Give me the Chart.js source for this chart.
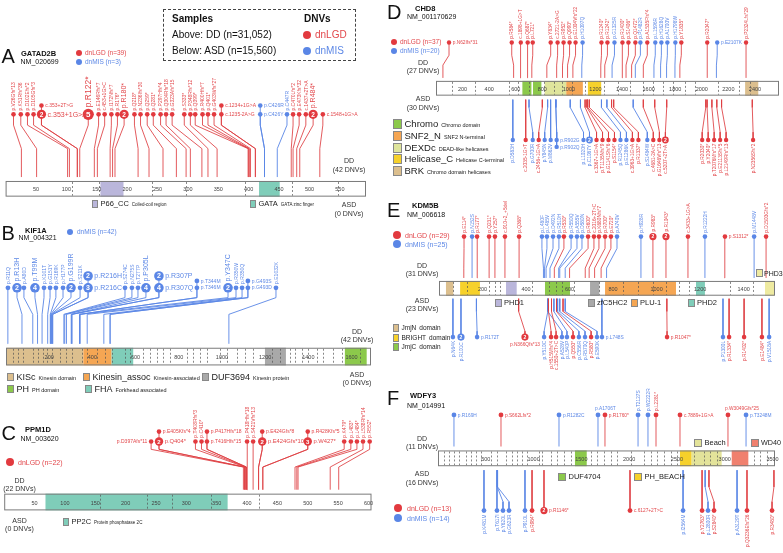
<!DOCTYPE html>
<html>
<head>
<meta charset="utf-8">
<script src="https://cdn.jsdelivr.net/npm/chart.js@4.4.1/dist/chart.umd.min.js"></script>
<style>
html, body { margin: 0; padding: 0; background: #fff; }
#page { position: relative; width: 783px; height: 553px; overflow: hidden; font-family: "Liberation Sans", Arial, sans-serif; }
#page canvas { position: absolute; left: 0; top: 0; }
.t { position: absolute; white-space: nowrap; line-height: 1; }
</style>
</head>
<body>
<div id="page"></div>
<script>
// de novo variant lollipops, 6 genes
var W = 783, H = 553;
var FONT = '"Liberation Sans", Arial, sans-serif';
var RED = '#e23a3f', BLUE = '#5a86e6';
var RED_TXT = '#e2474b', BLUE_TXT = '#5d88e6';
var RED_STEM = 'rgba(222,62,66,0.85)', BLUE_STEM = 'rgba(90,134,229,0.9)';

var domainColors = {
  'P66_CC': '#bab6db', 'GATA': '#7fcdb9', 'KISc': '#dcbf8e', 'Kinesin_assoc': '#f5a653',
  'FHA': '#7fcdb9', 'DUF3694': '#a9a9a9', 'PH': '#8cc94b', 'PP2C': '#7fcdb9',
  'Chromo': '#8cc94b', 'SNF2_N': '#f5a653', 'DEXDc': '#dfe59c', 'Helicase_C': '#f6d12b',
  'BRK': '#dcbf8e', 'JmjN': '#dcbf8e', 'BRIGHT': '#f6d12b', 'JmjC': '#8cc94b',
  'PHD1': '#bab6db', 'zfC5HC2': '#a9a9a9', 'PLU-1': '#f5a653', 'PHD2': '#7fcdb9',
  'PHD3': '#eeeaa0', 'DUF4704': '#8cc94b', 'PH_BEACH': '#f6d12b', 'Beach': '#e3e39a', 'WD40': '#f0806e'
};

// ---- GATAD2B ----
var gatad2bLen = 593;
var gatad2bTicks = [50, 100, 150, 200, 250, 300, 350, 400, 450, 500, 550];
var gatad2bExons = [110, 154, 241, 297, 394, 471, 547];
var gatad2bDomains = [['P66_CC', 156, 194], ['GATA', 417, 451]];
// [type, protein position, display position, label, count]
var gatad2bDD = [
  ['L', 26, 13, 'p.V26Gfs*13', 1], ['L', 51, 25, 'p.K51Rfs*36', 1], ['L', 102, 36, 'p.D102Efs*2', 1],
  ['L', 105, 46, 'p.D105Gfs*3', 1], ['L', 118, 59, 'c.353+2T>G', 1], ['L', 118, 59, 'c.353+1G>A', 2],
  ['L', 122, 136, 'p.R122*', 5], ['L', 146, 153, 'p.E146Rfs*7', 1], ['L', 151, 163, 'c.453+1G>C', 1],
  ['L', 172, 174, 'p.I172Nfs*7', 1], ['L', 176, 184, 'p.R176*', 1], ['L', 180, 195, 'p.R180*', 2],
  ['L', 218, 212, 'p.Q218*', 1], ['L', 236, 222, 'p.N236Ifs*30', 1], ['L', 259, 233, 'p.Q259*', 1],
  ['L', 281, 243, 'p.Q281*', 1], ['L', 297, 255, 'p.P297Hfs*4', 1], ['L', 304, 264, 'p.Q304Rfs*18', 1],
  ['L', 323, 274, 'p.G323Afs*15', 1], ['L', 333, 294, 'p.S333*', 1], ['L', 348, 304, 'p.P348Rfs*12', 1],
  ['L', 399, 312, 'p.Q399*', 1], ['L', 400, 324, 'p.R400Hfs*7', 1], ['L', 401, 333, 'p.Q401*', 1],
  ['L', 403, 343, 'p.G403Wfs*27', 1], ['L', 411, 355, 'c.1234+1G>A', 1], ['L', 411, 355, 'c.1235-2A>G', 1],
  ['M', 426, 419, 'p.C426R', 1], ['M', 426, 419, 'p.C426Y', 1], ['M', 447, 463, 'p.C447R', 1],
  ['L', 470, 473, 'p.C470Lfs*2', 1], ['L', 473, 483, 'p.E473Kfs*32', 1], ['L', 479, 494, 'c.1437+2T>A', 1],
  ['L', 484, 506, 'p.R484*', 2], ['L', 517, 522, 'c.1548+1G>A', 1]
];

// ---- KIF1A ----
var kif1aLen = 1690;
var kif1aTicks = [200, 400, 600, 800, 1000, 1200, 1400, 1600];
var kif1aExons = [31, 54, 80, 127, 150, 170, 188, 211, 250, 278, 304, 350, 373, 420, 458, 489, 551, 574, 636, 667,
  698, 728, 759, 836, 867, 898, 929, 991, 1022, 1068, 1106, 1145, 1230, 1269, 1315, 1338, 1369, 1400, 1438,
  1469, 1515, 1554, 1639];
var kif1aDomains = [['KISc', 2, 358], ['Kinesin_assoc', 358, 489], ['FHA', 489, 589], ['DUF3694', 1199, 1296], ['PH', 1569, 1670]];
var kif1aDD = [
  ['M', 8, 9, 'p.R11Q', 1], ['M', 74, 51, 'p.R13H', 2], ['M', 124, 83, 'p.A80D', 1], ['M', 146, 134, 'p.T99M', 4],
  ['M', 167, 176, 'p.K101T', 1], ['M', 193, 204, 'p.G151Y', 1], ['M', 205, 231, 'p.R169K', 1],
  ['M', 207, 264, 'p.H177P', 1], ['M', 209, 301, 'p.G199R', 2], ['M', 211, 343, 'p.S211K', 1],
  ['M', 216, 380, 'p.R216C', 3], ['M', 216, 380, 'p.R216H', 2], ['M', 268, 551, 'p.S274C', 1],
  ['M', 272, 583, 'p.N275S', 1], ['M', 280, 611, 'p.T277P', 1], ['M', 302, 648, 'p.P305L', 4],
  ['M', 305, 708, 'p.R307Q', 4], ['M', 305, 708, 'p.R307P', 2], ['M', 341, 884, 'p.T344M', 1],
  ['M', 341, 884, 'p.T346M', 1], ['M', 343, 1028, 'p.Y347C', 2], ['M', 376, 1065, 'p.R350W', 1],
  ['M', 453, 1093, 'p.R350Q', 1], ['M', 482, 1120, 'p.G493S', 1], ['M', 482, 1120, 'p.G493D', 1],
  ['M', 1032, 1250, 'p.E1032K', 1]
];

// ---- PPM1D ----
var ppm1dLen = 605;
var ppm1dTicks = [50, 100, 150, 200, 250, 300, 350, 400, 450, 500, 550, 600];
var ppm1dExons = [158, 236, 277, 341, 420];
var ppm1dDomains = [['PP2C', 68, 368]];
var ppm1dDD = [
  ['L', 394, 242, 'p.D397Afs*11', 1], ['L', 396, 255, 'p.Q404*', 2], ['L', 396, 255, 'p.E405Kfs*4', 1],
  ['L', 397, 315, 'p.T408Rfs*3', 1], ['L', 398, 325, 'p.C410*', 1], ['L', 399, 334, 'p.T416Hfs*15', 1],
  ['L', 399, 334, 'p.P417Hfs*18', 1], ['L', 401, 400, 'p.P418Hfs*18', 1], ['L', 410, 410, 'p.S421Vfs*13', 1],
  ['L', 419, 425, 'p.E424Gfs*10', 2], ['L', 419, 425, 'p.E424Gfs*8', 1], ['L', 426, 500, 'p.W427*', 3],
  ['L', 426, 500, 'p.R428Kfs*5', 1], ['L', 479, 560, 'p.K479*', 1], ['L', 482, 571, 'p.L483*', 1],
  ['L', 484, 581, 'p.L484*', 1], ['L', 537, 591, 'p.L538Rfs*14', 1], ['L', 551, 602, 'p.R552*', 1]
];

// ---- CHD8 ----
var chd8Len = 2581;
var chd8Ticks = [200, 400, 600, 800, 1000, 1200, 1400, 1600, 1800, 2000, 2200, 2400];
var chd8Exons = [123, 290, 552, 614, 701, 813, 888, 950, 1025, 1124, 1261, 1373, 1460, 1560, 1634, 1709, 1784, 1871, 1946, 2120, 2282, 2362];
var chd8Domains = [['Chromo', 650, 718], ['Chromo', 730, 793], ['DEXDc', 818, 980], ['SNF2_N', 980, 1105],
  ['Helicase_C', 1143, 1243], ['BRK', 2326, 2425]];
var chd8DD = [
  ['L', 52, 98, 'p.N62Ifs*31', 1], ['L', 584, 570, 'p.R584*', 1], ['L', 633, 638, 'c.1898+1G>T', 1],
  ['L', 687, 690, 'p.Q687*', 1], ['L', 721, 728, 'p.L721*', 1], ['L', 834, 863, 'p.Y834*', 1],
  ['L', 908, 915, 'c.2721-2A>G', 1], ['L', 952, 960, 'p.R952*', 1], ['L', 990, 1005, 'p.Q990*', 1],
  ['L', 1030, 1050, 'p.E1004Vfs*22', 1], ['M', 1097, 1103, 'p.H1097Q', 1], ['L', 1240, 1245, 'p.R1240*', 1],
  ['L', 1270, 1290, 'p.R1242*', 1], ['M', 1325, 1343, 'p.G1325R', 1], ['L', 1400, 1403, 'p.R1400*', 1],
  ['L', 1430, 1448, 'p.S1406*', 1], ['L', 1472, 1500, 'p.Q1472*', 1], ['M', 1500, 1538, 'p.P1482R', 1],
  ['L', 1560, 1590, 'p.A1535Ffs*4', 1], ['M', 1640, 1650, 'p.L1596R', 1], ['M', 1690, 1696, 'p.H1628Q', 1],
  ['M', 1735, 1741, 'p.A1700V', 1], ['M', 1798, 1801, 'p.H1798W', 1], ['L', 1835, 1846, 'p.Y1835*', 1],
  ['L', 2041, 2041, 'p.R2047*', 1], ['M', 2110, 2116, 'p.E2107K', 1], ['L', 2333, 2333, 'p.P2324Lfs*29', 1]
];
var chd8ASD = [
  ['M', 578, 578, 'p.D583H', 1], ['L', 675, 675, 'c.2035-1G>T', 1], ['M', 700, 728, 'p.G700R', 1],
  ['L', 800, 773, 'c.2456+1G>A', 1], ['M', 840, 818, 'p.Y845N', 1], ['M', 862, 863, 'p.M862V', 1],
  ['M', 902, 908, 'p.R902G', 1], ['M', 902, 908, 'p.R902Q', 1], ['M', 1010, 1110, 'p.L1020H', 1],
  ['M', 1087, 1155, 'p.C1087Y', 2], ['L', 1122, 1208, 'c.3367+1G>A', 1], ['L', 1135, 1253, 'p.T1135Nfs*9', 1],
  ['L', 1141, 1298, 'p.G1141Sfs*6', 1], ['L', 1154, 1343, 'p.S1154*', 1], ['M', 1245, 1388, 'p.R1245Q', 1],
  ['M', 1286, 1433, 'p.E1286K', 1], ['L', 1321, 1478, 'c.3963+1G>A', 1], ['L', 1337, 1523, 'p.R1337*', 1],
  ['M', 1484, 1590, 'p.S1484W', 1], ['L', 1560, 1635, 'c.4681-2A>C', 1], ['L', 1646, 1681, 'p.G1646Vfs*13', 1],
  ['L', 1736, 1726, 'c.5207+2T>A', 2], ['L', 2030, 2003, 'p.R2030*', 1], ['L', 2040, 2048, 'p.Y2040*', 1],
  ['L', 2076, 2093, 'p.T2076Mfs*17', 1], ['L', 2113, 2138, 'p.E2113Sfs*5', 1], ['L', 2149, 2183, 'p.L2149Rfs*13', 1],
  ['L', 2380, 2386, 'p.N2356Sfs*2', 1]
];

// ---- KDM5B ----
var kdm5bLen = 1544;
var kdm5bTicks = [200, 400, 600, 800, 1000, 1200, 1400];
var kdm5bExons = [66, 128, 228, 256, 282, 428, 505, 536, 566, 620, 736, 844, 913, 982, 1044, 1105, 1151, 1336, 1444];
var kdm5bDomains = [['JmjN', 32, 66], ['BRIGHT', 97, 188], ['PHD1', 308, 357], ['JmjC', 487, 602],
  ['zfC5HC2', 694, 737], ['PLU-1', 763, 1089], ['PHD2', 1181, 1222], ['PHD3', 1498, 1540]];
var kdm5bDD = [
  ['L', 114, 115, 'p.E114*', 1], ['M', 152, 152, 'p.N152S', 1], ['L', 177, 175, 'p.R177*', 1],
  ['L', 231, 230, 'p.Q231*', 1], ['L', 257, 257, 'p.Y257*', 1], ['L', 303, 303, 'c.910+2_+5del', 1],
  ['L', 368, 368, 'p.Q368*', 1], ['M', 480, 473, 'p.L480F', 1], ['M', 485, 496, 'p.L485V', 1],
  ['M', 492, 524, 'p.D492N', 1], ['M', 510, 551, 'p.R510H', 1], ['L', 530, 574, 'p.R530*', 1],
  ['M', 550, 607, 'p.R550Q', 1], ['M', 555, 634, 'p.A555V', 1], ['M', 580, 657, 'p.D580N', 1],
  ['L', 600, 685, 'p.R600*', 1], ['L', 672, 712, 'c.2016+2T>C', 1], ['L', 690, 735, 'p.K680Nfs*7', 1],
  ['L', 715, 763, 'p.R700*', 1], ['L', 745, 790, 'p.E720*', 1], ['M', 770, 818, 'p.A740V', 1],
  ['M', 928, 928, 'p.H928R', 1], ['L', 983, 983, 'p.R983*', 2], ['L', 1043, 1043, 'p.R1043*', 2],
  ['L', 1144, 1144, 'c.3433+1G>A', 1], ['M', 1222, 1222, 'p.R1222H', 1], ['L', 1312, 1314, 'p.S1312*', 1],
  ['M', 1448, 1448, 'p.M1448V', 1], ['L', 1503, 1503, 'p.D1503Gfs*2', 1]
];
var kdm5bASD = [
  ['M', 64, 64, 'p.N64K', 1], ['M', 101, 101, 'p.R101C', 2], ['M', 172, 175, 'p.R172T', 1],
  ['L', 366, 395, 'p.N366Qfs*13', 2], ['M', 500, 483, 'p.Y510C', 1], ['L', 503, 515, 'p.H515Mfs*4', 1],
  ['L', 517, 538, 'c.1550+2T>C', 1], ['M', 500, 565, 'p.A528V', 1], ['M', 528, 588, 'p.L540P', 1],
  ['L', 540, 616, 'p.Q550*', 1], ['M', 545, 643, 'p.C556R', 1], ['M', 555, 671, 'p.R570Q', 1],
  ['L', 570, 699, 'p.R580*', 1], ['M', 580, 726, 'p.E590K', 1], ['M', 748, 749, 'p.L748S', 1],
  ['L', 1047, 1048, 'p.R1047*', 1], ['M', 1305, 1305, 'p.P1300L', 1], ['L', 1333, 1333, 'p.R1334*', 1],
  ['L', 1402, 1402, 'p.R1402*', 1], ['L', 1484, 1484, 'p.E1484*', 1], ['M', 1517, 1517, 'p.V1518A', 1]
];

// ---- WDFY3 ----
var wdfy3Len = 3526;
var wdfy3Ticks = [500, 1000, 1500, 2000, 2500, 3000, 3500];
var wdfy3Exons = [64, 116, 169, 221, 291, 343, 395, 447, 552, 621, 708, 778, 830, 883, 935, 1057, 1092, 1180, 1249,
  1319, 1388, 1597, 1667, 1737, 1806, 1876, 2015, 2155, 2224, 2294, 2364, 2433, 2503, 2677, 2782, 2851, 2921,
  3304, 3374, 3444];
var wdfy3Domains = [['DUF4704', 1433, 1556], ['PH_BEACH', 2532, 2654], ['Beach', 2654, 2968], ['WD40', 3073, 3247]];
var wdfy3DD = [
  ['M', 167, 167, 'p.R169H', 1], ['L', 659, 659, 'p.S662Lfs*2', 1], ['M', 1266, 1266, 'p.R1282C', 1],
  ['M', 1674, 1674, 'p.A1706T', 1], ['L', 1747, 1747, 'p.R1760*', 1], ['M', 2093, 2093, 'p.T2127S', 1],
  ['M', 2197, 2197, 'p.W2222R', 1], ['L', 2281, 2281, 'p.L2281*', 1], ['L', 2532, 2532, 'c.7889+1G>A', 1],
  ['L', 3034, 3034, 'p.W3049Gfs*25', 1], ['M', 3223, 3223, 'p.T3248M', 1]
];
var wdfy3ASD = [
  ['M', 481, 481, 'p.K481M', 1], ['M', 617, 617, 'p.T617I', 1], ['M', 620, 680, 'p.Y620L', 1],
  ['M', 623, 743, 'p.G623R', 1], ['M', 910, 910, 'p.P910L', 1], ['L', 984, 984, 'p.R984*', 1],
  ['L', 1109, 1109, 'p.R1146*', 2], ['L', 2009, 2009, 'c.6127+2T>C', 1], ['M', 2564, 2564, 'p.I2564M', 1],
  ['L', 2763, 2763, 'p.Y2763*', 1], ['M', 2795, 2825, 'p.L2800R', 1], ['L', 2835, 2888, 'p.S2840*', 1],
  ['M', 3129, 3129, 'p.A3129T', 1], ['L', 3233, 3233, 'p.Q3236Efs*26', 1], ['L', 3515, 3495, 'p.R3480*', 1]
];

// label placement (styles, not data)
var hRight = ['c.353+2T>G', 'c.353+1G>A', 'c.1234+1G>A', 'c.1235-2A>G', 'p.C426R', 'p.C426Y', 'c.1548+1G>A',
  'p.R216C', 'p.R216H', 'p.R307Q', 'p.R307P', 'p.T344M', 'p.T346M', 'p.G493S', 'p.G493D',
  'p.Q404*', 'p.E405Kfs*4', 'p.T416Hfs*15', 'p.P417Hfs*18', 'p.E424Gfs*10', 'p.E424Gfs*8', 'p.W427*', 'p.R428Kfs*5',
  'p.N62Ifs*31', 'p.E2107K', 'p.R902G', 'p.R902Q', 'p.S1312*', 'p.R172T', 'p.L748S', 'p.R1047*',
  'p.R169H', 'p.S662Lfs*2', 'p.R1282C', 'p.R1760*', 'c.7889+1G>A', 'p.T3248M', 'p.R1146*', 'c.6127+2T>C'];
var hLeft = ['p.D397Afs*11'];
var hAbove = ['p.A1706T', 'p.W3049Gfs*25'];
var hBelow = ['p.N366Qfs*13'];
var outerRow = ['c.353+2T>G', 'c.1234+1G>A', 'p.C426R', 'p.R216H', 'p.R307P', 'p.T344M', 'p.G493S',
  'p.E405Kfs*4', 'p.P417Hfs*18', 'p.E424Gfs*8', 'p.R428Kfs*5', 'p.R902Q'];

var panels = [
  { key: 'A', len: gatad2bLen, ticks: gatad2bTicks, exons: gatad2bExons, domains: gatad2bDomains, dd: gatad2bDD, asd: [],
    x0: 5, x1: 366, barTop: 179, barBot: 195,
    top: { dot: 111, b2: 122, b1: 146, near: 175, gap: 9, up: true }, bottom: null,
    r: 2.3, R: 4.6, small: 5, big: 7, num: 6.5 },
  { key: 'B', len: kif1aLen, ticks: kif1aTicks, exons: kif1aExons, domains: kif1aDomains, dd: kif1aDD, asd: [],
    x0: 6, x1: 371, barTop: 349, barBot: 367,
    top: { dot: 288, b2: 298, b1: 315, near: 345, gap: 7, up: true }, bottom: null,
    r: 2.4, R: 4.8, small: 5, big: 7, num: 7 },
  { key: 'C', len: ppm1dLen, ticks: ppm1dTicks, exons: ppm1dExons, domains: ppm1dDomains, dd: ppm1dDD, asd: [],
    x0: 3.7, x1: 371.5, barTop: 497, barBot: 514,
    top: { dot: 444, b2: 452, b1: 470, near: 493, gap: 10, up: true }, bottom: null,
    r: 2.3, R: 4.2, small: 5, big: 5.8, num: 6 },
  { key: 'D', len: chd8Len, ticks: chd8Ticks, exons: chd8Exons, domains: chd8Domains, dd: chd8DD, asd: chd8ASD,
    x0: 436, x1: 780, barTop: 78, barBot: 93,
    top: { dot: 39, b2: 52, b1: 62, near: 75, gap: 7, up: true },
    bottom: { dot: 138, b2: 130, b1: 105, near: 97, gap: 7, up: false },
    r: 2.2, R: 3.4, small: 4.8, big: 4.8, num: 5 },
  { key: 'E', len: kdm5bLen, ticks: kdm5bTicks, exons: kdm5bExons, domains: kdm5bDomains, dd: kdm5bDD, asd: kdm5bASD,
    x0: 439, x1: 775, barTop: 281, barBot: 296,
    top: { dot: 236, b2: 248, b1: 268, near: 278, gap: 7, up: true },
    bottom: { dot: 338, b2: 332, b1: 312, near: 299, gap: 7, up: false },
    r: 2.3, R: 3.6, small: 4.8, big: 4.8, num: 5 },
  { key: 'F', len: wdfy3Len, ticks: wdfy3Ticks, exons: wdfy3Exons, domains: wdfy3Domains, dd: wdfy3DD, asd: wdfy3ASD,
    x0: 438, x1: 775, barTop: 453, barBot: 469,
    top: { dot: 417, b2: 425, b1: 440, near: 449, gap: 7, up: true },
    bottom: { dot: 514, b2: 505, b1: 490, near: 473, gap: 7, up: false },
    r: 2.4, R: 3.6, small: 4.8, big: 4.8, num: 5 }
];

var page = document.getElementById('page');

function radiusOf(p, n) {
  if (n >= 5) return p.R + 1;
  return n > 1 ? p.R : p.r;
}

function rowY(side, m) {
  if (outerRow.indexOf(m[3]) < 0) return side.dot;
  var g = side.gap + (m[4] > 1 ? 5 : 0);
  return side.up ? side.dot - g : side.dot + g;
}

function makeTrack(p) {
  return {
    id: 'track' + p.key,
    beforeDatasetsDraw: function (chart) {
      var ctx = chart.ctx, xs = chart.scales.x, ys = chart.scales.y;
      var L = xs.getPixelForValue(0), R = xs.getPixelForValue(p.len);
      var T = ys.getPixelForValue(p.barTop), B = ys.getPixelForValue(p.barBot);
      ctx.save();
      ctx.fillStyle = '#fff';
      ctx.fillRect(L, T, R - L, B - T);
      p.domains.forEach(function (d) {
        var a = xs.getPixelForValue(d[1]), b = xs.getPixelForValue(d[2]);
        ctx.fillStyle = domainColors[d[0]];
        ctx.fillRect(a, T, b - a, B - T);
      });
      ctx.strokeStyle = '#555';
      ctx.lineWidth = 0.7;
      ctx.setLineDash([2, 2]);
      p.exons.forEach(function (v) {
        var x = Math.round(xs.getPixelForValue(v)) + 0.5;
        ctx.beginPath();
        ctx.moveTo(x, T + 1);
        ctx.lineTo(x, B - 1);
        ctx.stroke();
      });
      ctx.setLineDash([]);
      ctx.strokeStyle = '#7a7a7a';
      ctx.lineWidth = 1;
      ctx.strokeRect(L + 0.5, T + 0.5, R - L - 1, B - T - 1);
      ctx.fillStyle = '#444';
      ctx.font = '5.5px ' + FONT;
      ctx.textAlign = 'center';
      ctx.textBaseline = 'middle';
      p.ticks.forEach(function (v) {
        ctx.fillText(String(v), xs.getPixelForValue(v), (T + B) / 2 + 1);
      });
      ctx.restore();
    },
    afterDatasetsDraw: function (chart) {
      var ctx = chart.ctx, xs = chart.scales.x, ys = chart.scales.y;
      ctx.save();
      chart.data.datasets.forEach(function (ds) {
        if (!ds.isDots) return;
        var col = ds.mut === 'L' ? RED_TXT : BLUE_TXT;
        ds.data.forEach(function (d) {
          var x = xs.getPixelForValue(d.x), y = ys.getPixelForValue(d.y);
          var r = radiusOf(p, d.n);
          if (d.n > 1) {
            ctx.fillStyle = '#fff';
            ctx.font = 'bold ' + (d.n >= 5 ? p.num + 1.5 : p.num) + 'px ' + FONT;
            ctx.textAlign = 'center';
            ctx.textBaseline = 'middle';
            ctx.fillText(String(d.n), x, y + 0.5);
          }
          var fs = d.n >= 5 ? p.big + 1.5 : (d.n > 1 ? p.big : p.small);
          ctx.fillStyle = col;
          ctx.font = fs + 'px ' + FONT;
          var lab = d.label;
          if (hRight.indexOf(lab) >= 0) {
            ctx.textAlign = 'left'; ctx.textBaseline = 'middle';
            ctx.fillText(lab, x + r + 1.5, y + 0.3);
          } else if (hLeft.indexOf(lab) >= 0) {
            ctx.textAlign = 'right'; ctx.textBaseline = 'middle';
            ctx.fillText(lab, x - r - 1.5, y + 0.3);
          } else if (hAbove.indexOf(lab) >= 0) {
            ctx.textAlign = 'left'; ctx.textBaseline = 'alphabetic';
            ctx.fillText(lab, x - 3, y - r - 3);
          } else if (hBelow.indexOf(lab) >= 0) {
            ctx.textAlign = 'center'; ctx.textBaseline = 'top';
            ctx.fillText(lab, x, y + r + 2);
          } else {
            ctx.save();
            ctx.translate(x, y);
            ctx.rotate(-Math.PI / 2);
            ctx.textBaseline = 'middle';
            if (d.up) {
              ctx.textAlign = 'left';
              ctx.fillText(lab, r + 1.5, 0.3);
            } else {
              ctx.textAlign = 'right';
              ctx.fillText(lab, -(r + 1.5), 0.3);
            }
            ctx.restore();
          }
        });
      });
      ctx.restore();
    }
  };
}

panels.forEach(function (p) {
  var cv = document.createElement('canvas');
  cv.width = W;
  cv.height = H;
  page.appendChild(cv);
  var sides = [[p.dd, p.top], [p.asd, p.bottom]].filter(function (s) { return s[1]; });
  var datasets = [];
  ['L', 'M'].forEach(function (type) {
    var stems = [], dots = [];
    sides.forEach(function (s) {
      var side = s[1];
      s[0].filter(function (m) { return m[0] === type; }).forEach(function (m) {
        var y = rowY(side, m);
        stems.push({ x: m[1], y: side.near }, { x: m[1], y: side.b1 }, { x: m[2], y: side.b2 }, { x: m[2], y: y }, { x: m[2], y: null });
        dots.push({ x: m[2], y: y, n: m[4], label: m[3], up: side.up });
      });
    });
    datasets.push({
      data: stems, showLine: true, spanGaps: false, borderColor: type === 'L' ? RED_STEM : BLUE_STEM,
      borderWidth: 1, pointRadius: 0, pointHitRadius: 0, order: 2, clip: false
    });
    datasets.push({
      data: dots, isDots: true, mut: type, order: 1, clip: false,
      pointRadius: function (c) { return radiusOf(p, c.raw ? c.raw.n : 1); },
      pointBackgroundColor: type === 'L' ? RED : BLUE, pointBorderWidth: 0, borderWidth: 0
    });
  });
  new Chart(cv, {
    type: 'scatter',
    data: { datasets: datasets },
    options: {
      responsive: false,
      animation: false,
      devicePixelRatio: 1,
      events: [],
      layout: { padding: { left: p.x0, right: W - p.x1, top: 0, bottom: 0 } },
      scales: {
        x: { type: 'linear', min: 0, max: p.len, display: false },
        y: { type: 'linear', min: 0, max: H, reverse: true, display: false }
      },
      plugins: { legend: { display: false }, tooltip: { enabled: false } }
    },
    plugins: [makeTrack(p)]
  });
});

// ---- text overlay ----
function text(s, x, base, size, o) {
  o = o || {};
  var el = document.createElement('div');
  el.className = 't';
  el.textContent = s;
  el.style.left = x + 'px';
  el.style.top = (base - 0.86 * size) + 'px';
  el.style.fontSize = size + 'px';
  el.style.color = o.color || '#111';
  if (o.bold) el.style.fontWeight = 'bold';
  if (o.center) el.style.transform = 'translateX(-50%)';
  page.appendChild(el);
}
function disc(cx, cy, r, color) {
  var el = document.createElement('div');
  el.style.cssText = 'position:absolute;border-radius:50%;left:' + (cx - r) + 'px;top:' + (cy - r) + 'px;width:' + (2 * r) + 'px;height:' + (2 * r) + 'px;background:' + color;
  page.appendChild(el);
}
function domainKey(name, desc, x, cy, bw, bh, ns, dsz, gap) {
  var b = document.createElement('div');
  b.style.cssText = 'position:absolute;box-sizing:border-box;border:0.5px solid #888;left:' + x + 'px;top:' + (cy - bh / 2) + 'px;width:' + bw + 'px;height:' + bh + 'px;background:' + domainColors[name];
  page.appendChild(b);
  var el = document.createElement('div');
  el.className = 't';
  el.style.left = (x + bw + (gap === undefined ? 2.5 : gap)) + 'px';
  el.style.top = (cy - 0.5 * ns) + 'px';
  el.style.fontSize = ns + 'px';
  el.style.color = '#222';
  el.textContent = name;
  if (desc) {
    var sp = document.createElement('span');
    sp.style.fontSize = dsz + 'px';
    sp.style.marginLeft = '3px';
    sp.textContent = desc;
    el.appendChild(sp);
  }
  page.appendChild(el);
}
function ddAsd(cx, b1, l1, b2, l2) {
  text(l1[0], cx, b1, 7, { center: true, color: '#333' });
  text(l1[1], cx, b1 + 8.5, 7, { center: true, color: '#333' });
  if (l2) {
    text(l2[0], cx, b2, 7, { center: true, color: '#333' });
    text(l2[1], cx, b2 + 8.5, 7, { center: true, color: '#333' });
  }
}

// samples box
var box = document.createElement('div');
box.style.cssText = 'position:absolute;left:163px;top:9px;width:193px;height:52px;border:1px dashed #444;box-sizing:border-box';
page.appendChild(box);
text('Samples', 172, 23, 10, { bold: true });
text('Above: DD (n=31,052)', 172, 38.5, 10);
text('Below: ASD (n=15,560)', 172, 55, 10);
text('DNVs', 304, 23, 10, { bold: true });
disc(307, 35, 4, RED); text('dnLGD', 315, 38.5, 10, { color: RED_TXT });
disc(307, 51, 4, BLUE); text('dnMIS', 315, 55, 10, { color: BLUE_TXT });

// A
text('A', 1.5, 63.5, 20);
text('GATAD2B', 21, 56, 7.5, { bold: true });
text('NM_020699', 20.5, 64.5, 7);
disc(79, 53, 3.4, RED); text('dnLGD (n=39)', 85, 56, 6.5, { color: RED_TXT });
disc(79, 62, 3.4, BLUE); text('dnMIS (n=3)', 85, 65, 6.5, { color: BLUE_TXT });
ddAsd(349, 163.5, ['DD', '(42 DNVs)'], 207.5, ['ASD', '(0 DNVs)']);
domainKey('P66_CC', 'Coiled-coil region', 92, 204, 6, 8, 7.5, 4.5);
domainKey('GATA', 'GATA zinc finger', 250, 204, 6, 8, 7.5, 4.5);

// B
text('B', 1.5, 240, 20);
text('KIF1A', 25, 233, 7.5, { bold: true });
text('NM_004321', 18.5, 240, 7);
disc(70, 232, 3.4, BLUE); text('dnMIS (n=42)', 77, 234.5, 6.5, { color: BLUE_TXT });
ddAsd(357, 334, ['DD', '(42 DNVs)'], 377, ['ASD', '(0 DNVs)']);
domainKey('KISc', 'Kinesin domain', 7, 377, 7, 7.5, 9, 5.5);
domainKey('Kinesin_assoc', 'Kinesin-associated', 83, 377, 7, 7.5, 9, 5.5);
domainKey('DUF3694', 'Kinesin protein', 202, 377, 7, 7.5, 9, 5.5);
domainKey('PH', 'PH domain', 7, 389, 7, 7.5, 9, 5.5);
domainKey('FHA', 'Forkhead associated', 85, 389, 7, 7.5, 9, 5.5);

// C
text('C', 1.5, 440, 20);
text('PPM1D', 25, 432.5, 7.5, { bold: true });
text('NM_003620', 20.5, 441.5, 7);
disc(10, 462, 4, RED); text('dnLGD (n=22)', 18, 465, 7, { color: RED_TXT });
ddAsd(19.5, 483, ['DD', '(22 DNVs)'], 523, ['ASD', '(0 DNVs)']);
domainKey('PP2C', 'Protein phosphatase 2C', 63, 522, 6, 8, 7.5, 4.5);

// D
text('D', 387, 19, 20);
text('CHD8', 415, 11.5, 7.5, { bold: true });
text('NM_001170629', 407, 19.5, 7);
disc(394, 42, 3.4, RED); text('dnLGD (n=37)', 400, 44.5, 6.5, { color: RED_TXT });
disc(394, 51, 3.4, BLUE); text('dnMIS (n=20)', 400, 53.5, 6.5, { color: BLUE_TXT });
ddAsd(423, 65, ['DD', '(27 DNVs)'], 101.5, ['ASD', '(30 DNVs)']);
domainKey('Chromo', 'Chromo domain', 393, 124, 9, 10, 9.5, 5.5);
domainKey('SNF2_N', 'SNF2 N-terminal', 393, 136, 9, 10, 9.5, 5.5);
domainKey('DEXDc', 'DEAD-like helicases', 393, 147.5, 9, 10, 9.5, 5.5);
domainKey('Helicase_C', 'Helicase C-terminal', 393, 159, 9, 10, 9.5, 5.5);
domainKey('BRK', 'Chromo domain helicases', 393, 170.5, 9, 10, 9.5, 5.5);

// E
text('E', 387, 217, 20);
text('KDM5B', 412, 208.5, 7.5, { bold: true });
text('NM_006618', 407, 217.5, 7);
disc(397, 235, 4, RED); text('dnLGD (n=29)', 405, 238, 7, { color: RED_TXT });
disc(397, 244, 4, BLUE); text('dnMIS (n=25)', 405, 247, 7, { color: BLUE_TXT });
ddAsd(422, 268, ['DD', '(31 DNVs)'], 303, ['ASD', '(23 DNVs)']);
domainKey('JmjN', 'domain', 393, 328, 6, 8, 6.5, 6.5);
domainKey('BRIGHT', 'domain', 393, 338, 6, 8, 6.5, 6.5);
domainKey('JmjC', 'domain', 393, 347, 6, 8, 6.5, 6.5);
domainKey('PHD1', '', 495, 303, 6.5, 8, 7.5, 0);
domainKey('zfC5HC2', '', 588, 303, 6.5, 8, 7.5, 0);
domainKey('PLU-1', '', 631, 303, 6.5, 8, 7.5, 0);
domainKey('PHD2', '', 688, 303, 6.5, 8, 7.5, 0);
domainKey('PHD3', '', 756, 273, 6.5, 8, 7, 0, 1.5);

// F
text('F', 387, 405, 20);
text('WDFY3', 410, 398.5, 7.5, { bold: true });
text('NM_014991', 407, 408, 7);
disc(398, 508, 4, RED); text('dnLGD (n=13)', 407, 511, 7, { color: RED_TXT });
disc(398, 518, 4, BLUE); text('dnMIS (n=14)', 407, 521, 7, { color: BLUE_TXT });
ddAsd(422, 441, ['DD', '(11 DNVs)'], 476.5, ['ASD', '(16 DNVs)']);
domainKey('Beach', '', 694, 443, 8, 8.5, 7.5, 0);
domainKey('WD40', '', 751, 443, 8, 8.5, 7.2, 0, 2);
domainKey('DUF4704', '', 558, 477, 8, 8.5, 7.5, 0);
domainKey('PH_BEACH', '', 634, 477, 8, 8.5, 7.5, 0);
</script>
</body>
</html>
